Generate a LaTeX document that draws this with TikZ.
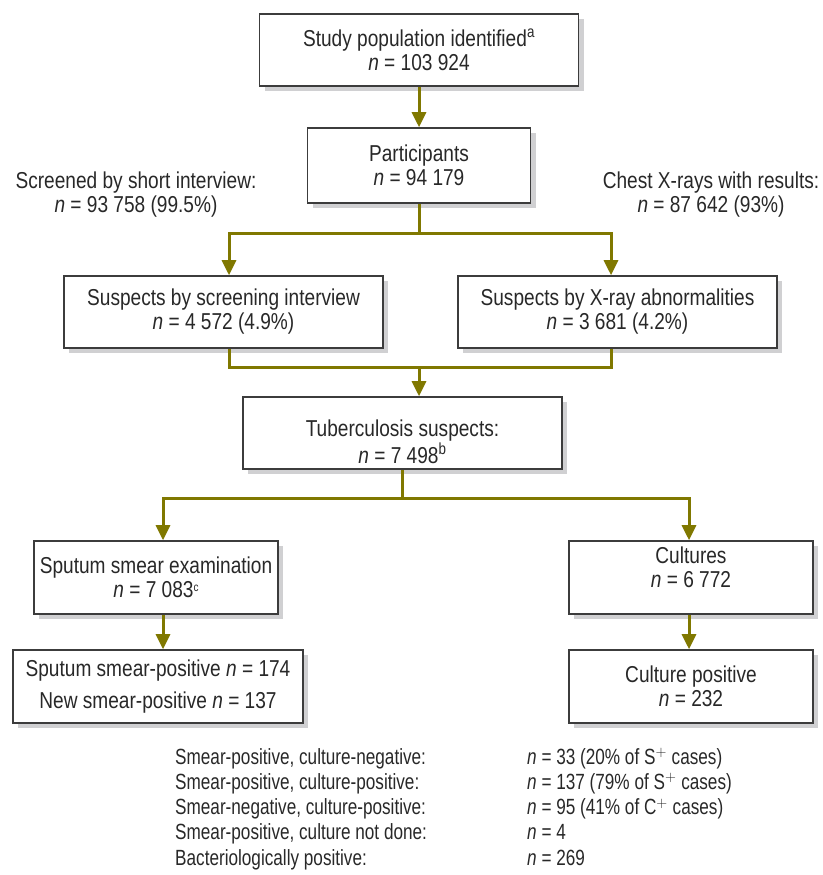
\documentclass[tikz,border=0pt]{standalone}
\usepackage{fontspec}
\setmainfont{Liberation Sans}[FakeStretch=0.83]
\newfontfamily\tablefont{Liberation Sans}[FakeStretch=0.78]
\usetikzlibrary{positioning}
\usetikzlibrary{arrows.meta}
\usetikzlibrary{shadows}
\definecolor{olivearrow}{RGB}{128,120,0}
\definecolor{boxline}{RGB}{60,60,60}
\definecolor{shadowgray}{RGB}{208,208,210}
\definecolor{textgray}{RGB}{40,40,40}

\begin{document}
\begin{tikzpicture}[x = 1pt, y = -1pt]
\tikzstyle{boxStyle} = [shape = rectangle, draw = boxline, line width = 1.6pt, fill = white, align = center, inner sep = 0pt, text = textgray, font = \fontsize{23}{24}\selectfont, drop shadow = {shadow xshift = 5pt, shadow yshift = -5pt, fill = shadowgray, opacity = 1}]
\tikzstyle{lineStyle} = [line width = 3pt, color = olivearrow]
\tikzstyle{arrowStyle} = [lineStyle, -{Triangle[width = 14pt, length = 15pt]}]
\tikzstyle{noteStyle} = [align = center, inner sep = 0pt, text = textgray, font = \fontsize{23}{24}\selectfont]
\useasboundingbox (0,0) rectangle (822,875);
\node[boxStyle, minimum width = 319pt, minimum height = 72pt] (b0) at (419,50) {Study population identified\textsuperscript{a}\\ \textit{n} = 103~924};
\node[boxStyle, minimum width = 223pt, minimum height = 75pt] (b1) at (419,165.5) {Participants\\ \textit{n} = 94~179};
\node[boxStyle, minimum width = 319pt, minimum height = 72pt] (b2) at (223.5,312) {Suspects by screening interview\\ \textit{n} = 4~572 (4.9\%)};
\node[boxStyle, minimum width = 319pt, minimum height = 72pt] (b3) at (617.5,312) {Suspects by X-ray abnormalities\\ \textit{n} = 3~681 (4.2\%)};
\node[boxStyle, minimum width = 319pt, minimum height = 72pt] (b4) at (402.5,433) {\rule{0pt}{34pt}Tuberculosis suspects:\\ \textit{n} = 7~498\textsuperscript{b}};
\node[boxStyle, minimum width = 244pt, minimum height = 73pt] (b5) at (156,577.5) {Sputum smear examination\\ \textit{n} = 7~083\raisebox{6pt}{\fontsize{12}{12}\selectfont c}};
\node[boxStyle, minimum width = 244pt, minimum height = 73pt] (b6) at (691,577.5) {Cultures\\ \textit{n} = 6~772\rule[-20pt]{0pt}{20pt}};
\node[boxStyle, minimum width = 290pt, minimum height = 73pt] (b7) at (158,686.5) {Sputum smear-positive \textit{n} = 174\\[8pt] New smear-positive \textit{n} = 137};
\node[boxStyle, minimum width = 244pt, minimum height = 73pt] (b8) at (691,686.5) {Culture positive\\ \textit{n} = 232};
\node[noteStyle] (t0) at (136,195) {Screened by short interview:\\ \textit{n} = 93~758 (99.5\%)};
\node[noteStyle] (t1) at (711,195) {Chest X-rays with results:\\ \textit{n} = 87~642 (93\%)};
\node[anchor = base west, inner sep = 0pt, text = textgray, font = \tablefont\fontsize{22}{25.3}\selectfont] (t2) at (175,764) {\begin{tabular}[t]{@{}p{352pt}@{}l@{}}
Smear-positive, culture-negative: & \textit{n} = 33 (20\% of S$^{+}$ cases)\\
Smear-positive, culture-positive: & \textit{n} = 137 (79\% of S$^{+}$ cases)\\
Smear-negative, culture-positive: & \textit{n} = 95 (41\% of C$^{+}$ cases)\\
Smear-positive, culture not done: & \textit{n} = 4\\
Bacteriologically positive: & \textit{n} = 269
\end{tabular}};
\coordinate (j0) at (419,233);
\coordinate (j1) at (419,367);
\coordinate (j2) at (402.5,498);
\draw[arrowStyle] (b0.south) -- (b1.north);
\draw[lineStyle] (b1.south) -- (j0);
\draw[arrowStyle] (j0) -| ([xshift = 5.5pt]b2.north);
\draw[arrowStyle] (j0) -| ([xshift = -6.5pt]b3.north);
\draw[lineStyle] ([xshift = 5.5pt]b2.south) |- (j1);
\draw[lineStyle] ([xshift = -6.5pt]b3.south) |- (j1);
\draw[arrowStyle] (j1) -- (j1 |- b4.north);
\draw[lineStyle] (b4.south) -- (j2);
\draw[arrowStyle] (j2) -| ([xshift = 7pt]b5.north);
\draw[arrowStyle] (j2) -| ([xshift = -2pt]b6.north);
\draw[arrowStyle] ([xshift = 7pt]b5.south) -- ([xshift = 5pt]b7.north);
\draw[arrowStyle] ([xshift = -2pt]b6.south) -- ([xshift = -2pt]b8.north);
\end{tikzpicture}
\end{document}
